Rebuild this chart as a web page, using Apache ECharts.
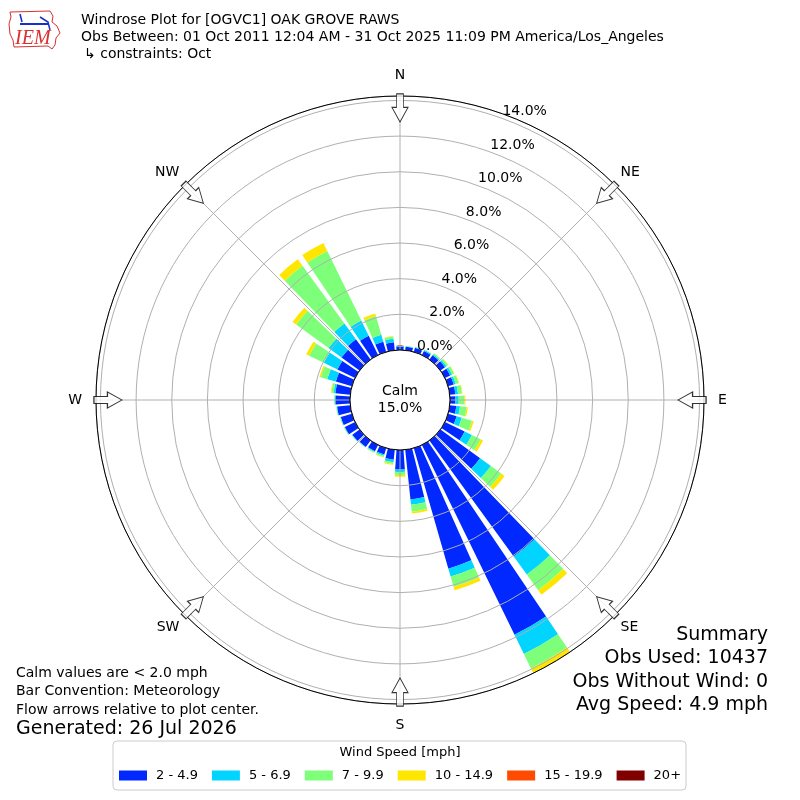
<!DOCTYPE html>
<html>
<head>
    <meta charset="UTF-8">
    <title>Windrose OGVC1</title>
    <script src="https://cdn.jsdelivr.net/npm/echarts@6/dist/echarts.min.js"></script>
    <style>
        html, body { margin: 0; padding: 0; background: #fff; }
        #chart { width: 800px; height: 800px; }
    </style>
</head>
<body>
    <div id="chart"></div>
    <script>
        // direction bins (deg from north, meteorological)
        var directions = ['0', '10', '20', '30', '40', '50', '60', '70', '80', '90', '100', '110',
            '120', '130', '140', '150', '160', '170', '180', '190', '200', '210', '220', '230',
            '240', '250', '260', '270', '280', '290', '300', '310', '320', '330', '340', '350'];

        // percent of obs per direction for each speed bin
        var speed2 = [0.20, 0.20, 0.24, 0.26, 0.30, 0.32, 0.33, 0.33, 0.32, 0.30, 0.37, 0.50,
            1.23, 2.75, 8.05, 11.85, 7.04, 2.81, 1.10, 0.57, 0.38, 0.40, 0.46, 0.50,
            0.64, 0.65, 0.74, 0.82, 0.84, 0.94, 1.10, 1.25, 1.40, 1.20, 0.60, 0.45];
        var speed5 = [0.03, 0.03, 0.04, 0.06, 0.07, 0.10, 0.12, 0.12, 0.15, 0.19, 0.21, 0.30,
            0.45, 0.75, 1.25, 1.20, 0.46, 0.29, 0.13, 0.13, 0.07, 0.04, 0.02, 0.03,
            0.03, 0.03, 0.03, 0.04, 0.10, 0.50, 0.85, 0.90, 1.10, 0.95, 0.40, 0.20];
        var speed7 = [0.02, 0.02, 0.02, 0.03, 0.07, 0.11, 0.13, 0.17, 0.22, 0.32, 0.37, 0.60,
            0.55, 0.72, 1.08, 0.90, 0.60, 0.40, 0.17, 0.10, 0.07, 0.05, 0.02, 0.02,
            0.03, 0.02, 0.03, 0.04, 0.12, 0.38, 0.92, 2.25, 4.00, 4.35, 1.10, 0.12];
        var speed10 = [0, 0, 0, 0, 0.01, 0.02, 0.02, 0.03, 0.03, 0.06, 0.07, 0.10,
            0.15, 0.23, 0.32, 0.30, 0.20, 0.10, 0.10, 0.05, 0.03, 0.01, 0, 0,
            0, 0, 0, 0, 0.04, 0.08, 0.18, 0.25, 0.45, 0.50, 0.15, 0.03];
        var speed15 = [0, 0, 0, 0, 0, 0, 0, 0, 0, 0, 0, 0,
            0, 0, 0, 0, 0, 0, 0, 0, 0, 0, 0, 0,
            0, 0, 0, 0, 0, 0, 0, 0, 0, 0, 0, 0];
        var speed20 = [0, 0, 0, 0, 0, 0, 0, 0, 0, 0, 0, 0,
            0, 0, 0, 0, 0, 0, 0, 0, 0, 0, 0, 0,
            0, 0, 0, 0, 0, 0, 0, 0, 0, 0, 0, 0];

        var speedNames = ['2 - 4.9', '5 - 6.9', '7 - 9.9', '10 - 14.9', '15 - 19.9', '20+'];
        var speedColors = ['#0028ff', '#00d4ff', '#7dff7a', '#ffe600', '#ff4a00', '#800000'];
        var speedData = [speed2, speed5, speed7, speed10, speed15, speed20];

        // compass points and arrow markers
        var compassAngles = [0, 45, 90, 135, 180, 225, 270, 315];
        var compassNames = ['N', 'NE', 'E', 'SE', 'S', 'SW', 'W', 'NW'];

        var calmPct = 15.0;
        var summaryLines = ['Summary', 'Obs Used: 10437', 'Obs Without Wind: 0', 'Avg Speed: 4.9 mph'];
        var noteLines = ['Calm values are < 2.0 mph', 'Bar Convention: Meteorology', 'Flow arrows relative to plot center.'];

        var FONT = 'DejaVu Sans';
        var RMAX = 14.25;
        var arrowPath = 'path://M4.5,0 L11.5,0 L11.5,13.5 L16,13.5 L8,28 L0,13.5 L4.5,13.5 Z';

        var chart = echarts.init(document.getElementById('chart'), null, { renderer: 'canvas' });

        var barSeries = speedData.map(function (vals, i) {
            return {
                name: speedNames[i],
                type: 'bar',
                coordinateSystem: 'polar',
                polarIndex: 0,
                stack: 'wind',
                barCategoryGap: '20%',
                data: vals,
                itemStyle: { color: speedColors[i] },
                silent: true
            };
        });

        var graphics = [
            // calm circle
            { type: 'circle', shape: { cx: 400, cy: 400, r: 50 }, style: { fill: '#fff', stroke: '#000', lineWidth: 1 }, z: 100 },
            { type: 'text', x: 400, y: 391, z: 101, style: { text: 'Calm', fontFamily: FONT, fontSize: 14, fill: '#000', align: 'center', verticalAlign: 'middle' } },
            { type: 'text', x: 400, y: 408, z: 101, style: { text: calmPct.toFixed(1) + '%', fontFamily: FONT, fontSize: 14, fill: '#000', align: 'center', verticalAlign: 'middle' } },
            // header
            { type: 'text', x: 81, y: 20, style: { text: 'Windrose Plot for [OGVC1] OAK GROVE RAWS', fontFamily: FONT, fontSize: 14, fill: '#000', verticalAlign: 'middle' } },
            { type: 'text', x: 81, y: 37, style: { text: 'Obs Between: 01 Oct 2011 12:04 AM - 31 Oct 2025 11:09 PM America/Los_Angeles', fontFamily: FONT, fontSize: 14, fill: '#000', verticalAlign: 'middle' } },
            { type: 'text', x: 84, y: 54, style: { text: '\u21b3 constraints: Oct', fontFamily: FONT, fontSize: 14, fill: '#000', verticalAlign: 'middle' } },
            // logo
            { type: 'polyline', shape: { points: [[10, 12], [50, 11], [53, 16], [52, 22], [57, 26], [60, 33], [56, 38], [55, 45], [52, 49], [48, 46], [14, 47], [13, 40], [10, 34], [9, 24], [11, 17], [10, 12]] }, style: { stroke: '#d93030', lineWidth: 1, fill: 'none' } },
            { type: 'polyline', shape: { points: [[20, 24], [48, 24]] }, style: { stroke: '#1a2fc8', lineWidth: 2 } },
            { type: 'polyline', shape: { points: [[20, 14], [22, 22]] }, style: { stroke: '#1a2fc8', lineWidth: 1.5 } },
            { type: 'polyline', shape: { points: [[40, 17], [48, 22], [50, 30]] }, style: { stroke: '#1a2fc8', lineWidth: 1.5, fill: 'none' } },
            { type: 'text', x: 15, y: 39, style: { text: 'IEM', fontFamily: 'Liberation Serif', fontStyle: 'italic', fontSize: 20, fill: '#d93030', verticalAlign: 'middle' } },
            // legend title
            { type: 'text', x: 400, y: 753, z: 20, style: { text: 'Wind Speed [mph]', fontFamily: FONT, fontSize: 13, fill: '#000', align: 'center', verticalAlign: 'middle' } },
            // footer
            { type: 'text', x: 16, y: 729, style: { text: 'Generated: 26 Jul 2026', fontFamily: FONT, fontSize: 19, fill: '#000', verticalAlign: 'middle' } }
        ];
        noteLines.forEach(function (t, i) {
            graphics.push({ type: 'text', x: 16, y: 673 + i * 18.5, style: { text: t, fontFamily: FONT, fontSize: 14, fill: '#000', verticalAlign: 'middle' } });
        });
        summaryLines.forEach(function (t, i) {
            graphics.push({ type: 'text', x: 768, y: 635 + i * 23.4, style: { text: t, fontFamily: FONT, fontSize: 19, fill: '#000', align: 'right', verticalAlign: 'middle' } });
        });

        var option = {
            animation: false,
            backgroundColor: '#fff',
            textStyle: { fontFamily: FONT },
            polar: [
                { center: [400, 400], radius: [50, 304] },
                { center: [400, 400], radius: [50, 304] },
                { center: [400, 400], radius: [50, 304] }
            ],
            angleAxis: [
                {
                    polarIndex: 0, type: 'category', data: directions, startAngle: 95, clockwise: true,
                    axisLine: { show: false }, axisTick: { show: false }, axisLabel: { show: false }, splitLine: { show: false }
                },
                {
                    polarIndex: 1, type: 'value', min: 0, max: 360, interval: 45, startAngle: 90, clockwise: true, z: 5,
                    axisLine: { show: true, lineStyle: { color: '#000', width: 1 } },
                    axisTick: { show: false },
                    axisLabel: {
                        margin: 8, fontSize: 14, color: '#000', fontFamily: FONT,
                        formatter: function (v) {
                            var k = compassAngles.indexOf(v);
                            if (k < 0) return '';
                            // cardinal points sit a bit further out than the diagonals
                            return (k % 2 === 0 ? '{c|' : '{d|') + compassNames[k] + '}';
                        },
                        rich: {
                            c: { fontSize: 14, fontFamily: FONT, color: '#000', padding: [6, 6, 6, 6] },
                            d: { fontSize: 14, fontFamily: FONT, color: '#000' }
                        }
                    },
                    splitLine: { show: true, lineStyle: { color: '#b0b0b0', width: 1 } }
                },
                {
                    polarIndex: 2, type: 'value', min: 0, max: 360, startAngle: 70, clockwise: true,
                    axisLine: { show: false }, axisTick: { show: false }, axisLabel: { show: false }, splitLine: { show: false }
                }
            ],
            radiusAxis: [
                {
                    polarIndex: 0, min: 0, max: RMAX, interval: 2, z: 5,
                    axisLine: { show: false }, axisTick: { show: false }, axisLabel: { show: false },
                    splitLine: { show: true, lineStyle: { color: '#b0b0b0', width: 1 } }
                },
                {
                    polarIndex: 1, min: 0, max: RMAX,
                    axisLine: { show: false }, axisTick: { show: false }, axisLabel: { show: false }, splitLine: { show: false }
                },
                {
                    polarIndex: 2, min: 0, max: RMAX, interval: 2, z: 6,
                    axisLine: { show: false }, axisTick: { show: false }, splitLine: { show: false },
                    axisLabel: {
                        margin: 0, fontSize: 14, color: '#000', fontFamily: FONT, align: 'left', verticalAlign: 'bottom',
                        formatter: function (v) {
                            return Math.abs(v % 2) < 1e-9 ? v.toFixed(1) + '%' : '';
                        }
                    }
                }
            ],
            legend: {
                data: speedNames,
                left: 113, top: 741,
                padding: [28, 5, 8, 6],
                itemGap: 14, itemWidth: 28, itemHeight: 10, icon: 'rect',
                borderColor: '#cccccc', borderWidth: 1, borderRadius: 4, backgroundColor: '#fff',
                textStyle: { fontFamily: FONT, fontSize: 13, color: '#000', padding: [0, 0, 0, 4] },
                selectedMode: false
            },
            series: barSeries.concat([{
                type: 'scatter',
                coordinateSystem: 'polar',
                polarIndex: 1,
                symbol: arrowPath,
                symbolSize: [16, 28],
                symbolRotate: function (val) { return -val[1]; },
                data: compassAngles.map(function (a) { return [13.58, a]; }),
                itemStyle: { color: '#fff', borderColor: '#000', borderWidth: 1 },
                silent: true,
                z: 10
            }]),
            graphic: graphics
        };

        chart.setOption(option);
    </script>
</body>
</html>
